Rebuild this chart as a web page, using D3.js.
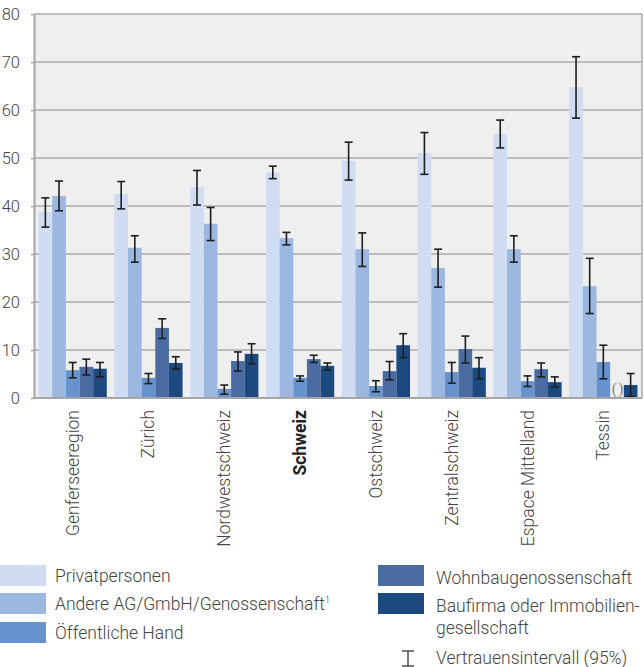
<!DOCTYPE html>
<html>
<head>
<meta charset="utf-8">
<script src="https://cdn.jsdelivr.net/npm/d3@7"></script>
<style>
  body { margin: 0; background: #fff; }
  text { font-family: Roboto, "Noto Sans", sans-serif; }
</style>
</head>
<body>
<div id="chart"></div>
<script>
// regions (x categories) and owner types (series)
var regions = ["Genferseeregion", "Zürich", "Nordwestschweiz", "Schweiz", "Ostschweiz",
               "Zentralschweiz", "Espace Mittelland", "Tessin"];
var series = ["Privatpersonen", "Andere AG/GmbH/Genossenschaft", "Öffentliche Hand",
              "Wohnbaugenossenschaft", "Baufirma oder Immobiliengesellschaft"];
var colors = ["#cfdcf2", "#9cb8e1", "#6693cd", "#4a6ca2", "#1c4a80"];
var yTicks = [0, 10, 20, 30, 40, 50, 60, 70, 80];

// values in %, one array per series (same order as regions); null = not shown "()"
var privat     = [38.8, 42.5, 43.9, 47.0, 49.4, 51.0, 55.0, 64.8];
var andere     = [42.1, 31.3, 36.3, 33.3, 31.0, 27.1, 31.0, 23.3];
var oeffentl   = [5.8, 4.2, 1.9, 4.2, 2.5, 5.4, 3.5, 7.5];
var wohnbau    = [6.5, 14.6, 7.7, 8.1, 5.6, 10.2, 6.0, null];
var baufirma   = [6.1, 7.3, 9.2, 6.7, 11.0, 6.3, 3.3, 2.7];

// 95% confidence interval bounds
var privatLo   = [35.6, 39.4, 40.2, 45.7, 45.4, 46.6, 52.1, 58.3];
var privatHi   = [41.7, 45.1, 47.4, 48.3, 53.3, 55.3, 57.9, 71.1];
var andereLo   = [39.0, 28.3, 32.8, 31.9, 27.4, 23.1, 28.3, 17.6];
var andereHi   = [45.2, 33.8, 39.7, 34.5, 34.4, 31.0, 33.8, 29.1];
var oeffLo     = [4.2, 3.0, 0.8, 3.5, 1.3, 3.1, 2.4, 4.0];
var oeffHi     = [7.4, 5.1, 2.7, 4.6, 3.6, 7.4, 4.6, 11.0];
var wohnLo     = [4.8, 12.4, 5.6, 7.4, 3.8, 7.3, 4.4, null];
var wohnHi     = [8.1, 16.5, 9.6, 8.9, 7.6, 12.9, 7.3, null];
var bauLo      = [4.4, 6.0, 7.1, 5.8, 8.4, 4.0, 2.3, 0.3];
var bauHi      = [7.4, 8.6, 11.3, 7.3, 13.4, 8.4, 4.4, 5.1];

var allValues = [privat, andere, oeffentl, wohnbau, baufirma];
var allLo = [privatLo, andereLo, oeffLo, wohnLo, bauLo];
var allHi = [privatHi, andereHi, oeffHi, wohnHi, bauHi];

var data = [];
regions.forEach(function(r, i) {
    series.forEach(function(s, j) {
        data.push({ region: r, serie: s, idx: j, value: allValues[j][i], lo: allLo[j][i], hi: allHi[j][i] });
    });
});

var width = 644, height = 667;
var plot = { left: 34, right: 642, top: 14, bottom: 398 };

var svg = d3.select("#chart").append("svg")
    .attr("width", width)
    .attr("height", height);

var x0 = d3.scaleBand().domain(regions).range([plot.left, plot.right])
    .paddingInner(0.1).paddingOuter(0.06);
var x1 = d3.scaleBand().domain(series).range([0, x0.bandwidth()]);
var y = d3.scaleLinear().domain([0, 80]).range([plot.bottom, plot.top]);

// plot background
svg.append("rect")
    .attr("x", plot.left).attr("y", plot.top)
    .attr("width", plot.right - plot.left).attr("height", plot.bottom - plot.top)
    .attr("fill", "#efefef");

// grid lines
svg.append("g").selectAll("line")
    .data(yTicks.filter(function(t) { return t > 0; }))
    .enter().append("line")
    .attr("x1", plot.left).attr("x2", plot.right)
    .attr("y1", function(d) { return y(d); }).attr("y2", function(d) { return y(d); })
    .attr("stroke", "#ababab").attr("stroke-width", 1.5);

// right border
svg.append("line")
    .attr("x1", plot.right).attr("x2", plot.right)
    .attr("y1", plot.top).attr("y2", plot.bottom)
    .attr("stroke", "#ababab").attr("stroke-width", 1.5);

// bars
svg.append("g").selectAll("rect")
    .data(data.filter(function(d) { return d.value != null; }))
    .enter().append("rect")
    .attr("x", function(d) { return x0(d.region) + x1(d.serie); })
    .attr("y", function(d) { return y(d.value); })
    .attr("width", x1.bandwidth())
    .attr("height", function(d) { return y(0) - y(d.value); })
    .attr("fill", function(d) { return colors[d.idx]; });

// "()" for value not shown
svg.append("g").selectAll("text")
    .data(data.filter(function(d) { return d.value == null; }))
    .enter().append("text")
    .attr("x", function(d) { return x0(d.region) + x1(d.serie) + x1.bandwidth() / 2 + 1; })
    .attr("y", y(0) - 4)
    .attr("text-anchor", "middle")
    .attr("font-size", 16)
    .attr("letter-spacing", 1)
    .attr("fill", "#888")
    .style("font-family", "'Liberation Serif', serif")
    .text("()");

// error bars
var eb = svg.append("g").selectAll("g")
    .data(data.filter(function(d) { return d.lo != null; }))
    .enter().append("g")
    .attr("stroke", "#1e1e1e").attr("stroke-width", 1.6);
eb.append("line")
    .attr("x1", function(d) { return x0(d.region) + x1(d.serie) + x1.bandwidth() / 2; })
    .attr("x2", function(d) { return x0(d.region) + x1(d.serie) + x1.bandwidth() / 2; })
    .attr("y1", function(d) { return y(d.lo); })
    .attr("y2", function(d) { return y(d.hi); });
eb.selectAll(".cap")
    .data(function(d) { return [{ d: d, v: d.lo }, { d: d, v: d.hi }]; })
    .enter().append("line")
    .attr("class", "cap")
    .attr("x1", function(c) { return x0(c.d.region) + x1(c.d.serie) + x1.bandwidth() / 2 - 4; })
    .attr("x2", function(c) { return x0(c.d.region) + x1(c.d.serie) + x1.bandwidth() / 2 + 4; })
    .attr("y1", function(c) { return y(c.v); })
    .attr("y2", function(c) { return y(c.v); });

// y axis
var yAxis = svg.append("g")
    .attr("transform", "translate(" + plot.left + ",0)")
    .call(d3.axisLeft(y).tickValues(yTicks).tickSize(3).tickPadding(11).tickSizeOuter(0));
yAxis.select(".domain").attr("stroke", "#a6a6a6").attr("stroke-width", 2);
yAxis.selectAll(".tick line").attr("stroke", "#a6a6a6").attr("stroke-width", 1.5);
yAxis.selectAll(".tick text")
    .attr("font-size", 16.5).attr("font-weight", 300).attr("fill", "#444")
    .style("font-family", "Roboto, sans-serif");

// x axis line
svg.append("line")
    .attr("x1", plot.left - 1).attr("x2", plot.right)
    .attr("y1", plot.bottom).attr("y2", plot.bottom)
    .attr("stroke", "#a6a6a6").attr("stroke-width", 2);

// x labels, rotated
svg.append("g").selectAll("text")
    .data(regions)
    .enter().append("text")
    .attr("transform", function(d) {
        return "translate(" + (x0(d) + x0.bandwidth() / 2 + 6) + "," + (plot.bottom + 12) + ") rotate(-90)";
    })
    .attr("text-anchor", "end")
    .attr("font-size", 17.5)
    .attr("font-weight", function(d) { return d == "Schweiz" ? 700 : 300; })
    .attr("fill", function(d) { return d == "Schweiz" ? "#222" : "#444"; })
    .text(function(d) { return d; });

// legend
var legendLeft = [
    { i: 0, label: "Privatpersonen", y: 565 },
    { i: 1, label: "Andere AG/GmbH/Genossenschaft", sup: "1", y: 593 },
    { i: 2, label: "Öffentliche Hand", y: 622 }
];
var legendRight = [
    { i: 3, lines: ["Wohnbaugenossenschaft"], y: 565 },
    { i: 4, lines: ["Baufirma oder Immobilien-", "gesellschaft"], y: 593 }
];
var lg = svg.append("g");
legendLeft.forEach(function(l) {
    lg.append("rect").attr("x", 0).attr("y", l.y).attr("width", 46).attr("height", 21)
        .attr("fill", colors[l.i]);
    var t = lg.append("text").attr("x", 55).attr("y", l.y + 17)
        .attr("font-size", 17.5).attr("font-weight", 300).attr("fill", "#444")
        .text(l.label);
    if (l.sup) t.append("tspan").attr("font-size", 9).attr("dy", -7).text(l.sup);
});
legendRight.forEach(function(l) {
    lg.append("rect").attr("x", 378).attr("y", l.y).attr("width", 46).attr("height", 21)
        .attr("fill", colors[l.i]);
    var t = lg.append("text").attr("y", l.y + 19)
        .attr("font-size", 17.5).attr("font-weight", 300).attr("fill", "#444");
    l.lines.forEach(function(s, k) {
        t.append("tspan").attr("x", 436).attr("dy", k == 0 ? 0 : 22).text(s);
    });
});
// confidence interval symbol
var ci = lg.append("g").attr("stroke", "#333").attr("stroke-width", 1.3);
ci.append("line").attr("x1", 408).attr("x2", 408).attr("y1", 651).attr("y2", 666);
ci.append("line").attr("x1", 402).attr("x2", 414).attr("y1", 651).attr("y2", 651);
ci.append("line").attr("x1", 402).attr("x2", 414).attr("y1", 666).attr("y2", 666);
lg.append("text").attr("x", 436).attr("y", 664)
    .attr("font-size", 17.5).attr("font-weight", 300).attr("fill", "#444")
    .text("Vertrauensintervall (95%)");
</script>
</body>
</html>
